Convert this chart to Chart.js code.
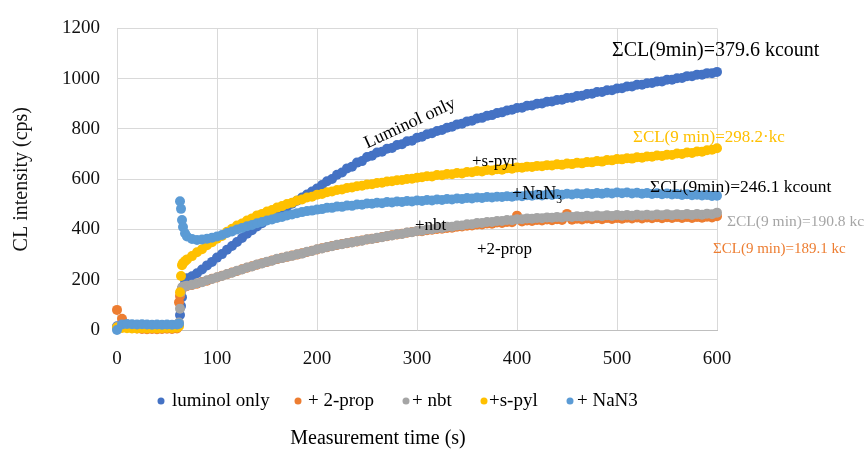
<!DOCTYPE html>
<html>
<head>
<meta charset="utf-8">
<script src="https://cdn.jsdelivr.net/npm/chart.js@4.4.1/dist/chart.umd.min.js"></script>
<style>
  html, body { margin: 0; background: #fff; }
</style>
</head>
<body>
<canvas id="clChart" width="866" height="450"></canvas>
<script>
// tempo de medição (s)
const tempo = [
    0, 5, 10, 15, 20, 25, 30, 35, 40, 45, 50, 55, 60, 62, 63, 64, 65, 66, 68, 70,
    75, 80, 85, 90, 95, 100, 105, 110, 115, 120, 125, 130, 135, 140, 145, 150, 155, 160, 165, 170, 175, 180, 185, 190, 195, 200,
    205, 210, 215, 220, 225, 230, 235, 240, 245, 250, 255, 260, 265, 270, 275, 280, 285, 290, 295, 300,
    305, 310, 315, 320, 325, 330, 335, 340, 345, 350, 355, 360, 365, 370, 375, 380, 385, 390, 395, 400,
    405, 410, 415, 420, 425, 430, 435, 440, 445, 450, 455, 460, 465, 470, 475, 480, 485, 490, 495, 500,
    505, 510, 515, 520, 525, 530, 535, 540, 545, 550, 555, 560, 565, 570, 575, 580, 585, 590, 595, 600
];

// intensidade CL (cps) por amostra
const luminolOnly = [
    15, 18, 17, 16, 15, 16, 14, 15, 16, 15, 14, 16, 15, 22, 60, 95, 130, 172, 198, 206,
    214, 226, 241, 257, 271, 288, 302, 319, 334, 350, 366, 383, 397, 412, 425, 440, 452, 466, 478, 491, 502, 514, 527, 539, 551, 563,
    577, 592, 601, 618, 627, 643, 650, 666, 672, 688, 693, 706, 709, 721, 724, 736, 739, 751, 753, 765,
    769, 779, 783, 792, 796, 805, 809, 818, 821, 830, 833, 842, 844, 852, 855, 863, 866, 873, 876, 883,
    884, 892, 893, 900, 901, 908, 909, 915, 916, 923, 924, 931, 932, 939, 940, 947, 947, 954, 954, 961,
    962, 969, 969, 976, 976, 982, 983, 989, 989, 996, 996, 1002, 1003, 1010, 1010, 1016, 1016, 1022, 1022, 1027
];
const prop2 = [
    80, 45, 22, 10, 6, 4, 3, 4, 3, 4, 5, 4, 6, 110, 135, 155, 165, 170, 172, 175,
    179, 184, 191, 196, 204, 209, 216, 222, 229, 235, 242, 248, 254, 260, 266, 271, 277, 282, 287, 291, 296, 300, 305, 310, 315, 320,
    325, 329, 334, 338, 342, 345, 349, 352, 356, 360, 363, 366, 370, 373, 377, 380, 383, 387, 390, 393,
    393, 397, 399, 402, 403, 406, 407, 411, 412, 415, 416, 420, 420, 424, 423, 428, 426, 430, 429, 455,
    432, 436, 434, 438, 436, 440, 437, 441, 438, 462, 439, 443, 440, 444, 441, 445, 441, 446, 442, 446,
    443, 447, 444, 448, 444, 448, 445, 449, 445, 449, 446, 450, 446, 450, 446, 450, 447, 451, 448, 453
];
const nbt = [
    12, 18, 17, 16, 15, 14, 15, 14, 15, 14, 15, 14, 16, 30, 85, 150, 168, 172, 174, 176,
    180, 186, 190, 198, 203, 210, 215, 223, 228, 236, 241, 249, 253, 261, 265, 272, 276, 283, 286, 292, 295, 301, 304, 311, 314, 321,
    324, 330, 333, 339, 341, 346, 348, 353, 355, 361, 362, 367, 369, 374, 376, 381, 382, 388, 389, 394,
    395, 400, 401, 406, 406, 411, 411, 416, 416, 421, 421, 426, 426, 430, 430, 434, 434, 438, 437, 441,
    441, 444, 443, 446, 445, 448, 447, 450, 448, 452, 450, 453, 451, 455, 452, 456, 453, 457, 454, 458,
    455, 458, 455, 459, 456, 459, 456, 460, 457, 461, 457, 461, 458, 462, 458, 462, 459, 463, 461, 467
];
const sPyl = [
    10, 8, 7, 6, 6, 7, 6, 7, 6, 7, 8, 7, 9, 15, 150, 215, 258, 266, 274, 281,
    294, 309, 321, 337, 349, 363, 374, 391, 403, 416, 424, 436, 444, 456, 462, 471, 477, 487, 493, 501, 506, 515, 519, 527, 530, 538,
    541, 548, 551, 557, 559, 565, 567, 572, 574, 579, 580, 585, 586, 591, 592, 596, 597, 601, 602, 606,
    608, 612, 611, 617, 616, 621, 620, 625, 623, 629, 628, 633, 631, 637, 635, 640, 638, 644, 642, 647,
    646, 650, 649, 653, 652, 656, 655, 659, 657, 662, 660, 665, 663, 668, 667, 672, 670, 676, 675, 680,
    679, 683, 682, 687, 685, 690, 689, 694, 692, 697, 696, 702, 700, 706, 704, 710, 709, 715, 717, 723
];
const naN3 = [
    0, 22, 24, 23, 22, 23, 22, 21, 22, 21, 22, 21, 22, 25, 512, 482, 438, 410, 385, 372,
    362, 358, 360, 363, 367, 372, 378, 386, 392, 400, 406, 413, 418, 425, 430, 436, 440, 446, 450, 456, 460, 465, 469, 473, 475, 479,
    481, 486, 486, 491, 490, 495, 494, 499, 498, 503, 502, 506, 504, 509, 507, 511, 509, 513, 511, 515,
    513, 517, 515, 519, 517, 521, 519, 523, 521, 525, 523, 527, 525, 529, 527, 530, 529, 532, 530, 534,
    532, 536, 534, 538, 535, 539, 537, 541, 538, 542, 539, 543, 540, 544, 541, 545, 542, 546, 543, 547,
    544, 547, 543, 546, 542, 545, 541, 544, 540, 543, 539, 541, 537, 540, 536, 538, 535, 537, 533, 534
];

const nomesSeries = ['luminol only', ' + 2-prop', '+ nbt', '+s-pyl', '+ NaN3'];
const valoresSeries = [luminolOnly, prop2, nbt, sPyl, naN3];
const cores = ['#4472C4', '#ED7D31', '#A5A5A5', '#FFC000', '#5B9BD5'];

const fonte = '"Liberation Serif", "Times New Roman", serif';

// rótulos dentro do gráfico, posição em unidades dos eixos (s, cps)
const notas = [
    { text: 'ΣCL(9min)=379.6 kcount', x: 495, y: 1110, size: 20, color: '#000' },
    { text: 'Luminol only', x: 293, y: 822, size: 18, color: '#000', rot: -25 },
    { text: 'ΣCL(9 min)=298.2·kc', x: 516, y: 767, size: 17, color: '#FFC000' },
    { text: '+s-pyr', x: 355, y: 670, size: 17, color: '#000' },
    { text: 'ΣCL(9min)=246.1 kcount', x: 533, y: 569, size: 17.5, color: '#000' },
    { text: '+NaN', sub: '3', x: 395, y: 539, size: 18, color: '#000' },
    { text: 'ΣCL(9 min)=190.8 kc', x: 610, y: 429, size: 15.5, color: '#A5A5A5' },
    { text: '+nbt', x: 298, y: 417, size: 17, color: '#000' },
    { text: '+2-prop', x: 360, y: 319, size: 17, color: '#000' },
    { text: 'ΣCL(9 min)=189.1 kc', x: 596, y: 323, size: 15, color: '#ED7D31' }
];

// legenda: centro do marcador e início do texto (px)
const legendaPos = [[161, 172], [298, 308], [406, 412], [484, 489], [570, 577]];

const textos = {
    id: 'textos',
    afterDraw(chart) {
        const { ctx, scales: { x, y } } = chart;
        ctx.save();
        ctx.textBaseline = 'middle';

        notas.forEach(n => {
            const px = x.getPixelForValue(n.x);
            const py = y.getPixelForValue(n.y);
            ctx.font = `${n.size}px ${fonte}`;
            ctx.fillStyle = n.color;
            if (n.rot) {
                ctx.save();
                ctx.translate(px, py);
                ctx.rotate(n.rot * Math.PI / 180);
                ctx.textAlign = 'center';
                ctx.fillText(n.text, 0, 0);
                ctx.restore();
                return;
            }
            ctx.textAlign = 'left';
            ctx.fillText(n.text, px, py);
            if (n.sub) {
                const w = ctx.measureText(n.text).width;
                ctx.font = `${n.size * 0.65}px ${fonte}`;
                ctx.fillText(n.sub, px + w, py + n.size * 0.3);
            }
        });

        // legenda
        ctx.font = `19px ${fonte}`;
        ctx.textAlign = 'left';
        chart.data.datasets.forEach((ds, i) => {
            const [cx, tx] = legendaPos[i];
            ctx.fillStyle = ds.backgroundColor;
            ctx.beginPath();
            ctx.arc(cx, 401, 3.5, 0, 2 * Math.PI);
            ctx.fill();
            ctx.fillStyle = '#000';
            ctx.fillText(ds.label.trim(), tx, 401);
        });

        // título do eixo x
        ctx.font = `20px ${fonte}`;
        ctx.textAlign = 'center';
        ctx.fillText('Measurement time (s)', 378, 439);
        ctx.restore();
    }
};

const datasets = valoresSeries.map((serie, i) => ({
    label: nomesSeries[i],
    data: tempo.map((t, k) => ({ x: t, y: serie[k] })),
    backgroundColor: cores[i],
    borderColor: cores[i],
    pointRadius: 5,
    pointBorderWidth: 0,
    pointHoverRadius: 5,
    showLine: false,
    clip: false,
    order: valoresSeries.length - i
}));

new Chart(document.getElementById('clChart'), {
    type: 'scatter',
    data: { datasets },
    options: {
        responsive: false,
        animation: false,
        layout: { padding: { top: 22, right: 149, bottom: 0, left: 0 } },
        scales: {
            x: {
                type: 'linear',
                min: 0,
                max: 600,
                afterFit: (scale) => { scale.height = 120; },
                ticks: {
                    stepSize: 100,
                    padding: 18,
                    color: '#111',
                    font: { family: fonte, size: 19 }
                },
                grid: { color: '#d9d9d9', drawTicks: false },
                border: { color: '#bfbfbf' }
            },
            y: {
                min: 0,
                max: 1200,
                afterFit: (scale) => { scale.width = 117; },
                ticks: {
                    stepSize: 200,
                    padding: 17,
                    color: '#111',
                    font: { family: fonte, size: 19 },
                    callback: (value) => String(value)
                },
                grid: { color: '#d9d9d9', drawTicks: false },
                border: { color: '#d9d9d9' },
                title: {
                    display: true,
                    text: 'CL intensity (cps)',
                    color: '#111',
                    padding: { top: 10, bottom: 0 },
                    font: { family: fonte, size: 20 }
                }
            }
        },
        plugins: {
            legend: { display: false },
            tooltip: { enabled: false }
        }
    },
    plugins: [textos]
});
</script>
</body>
</html>
